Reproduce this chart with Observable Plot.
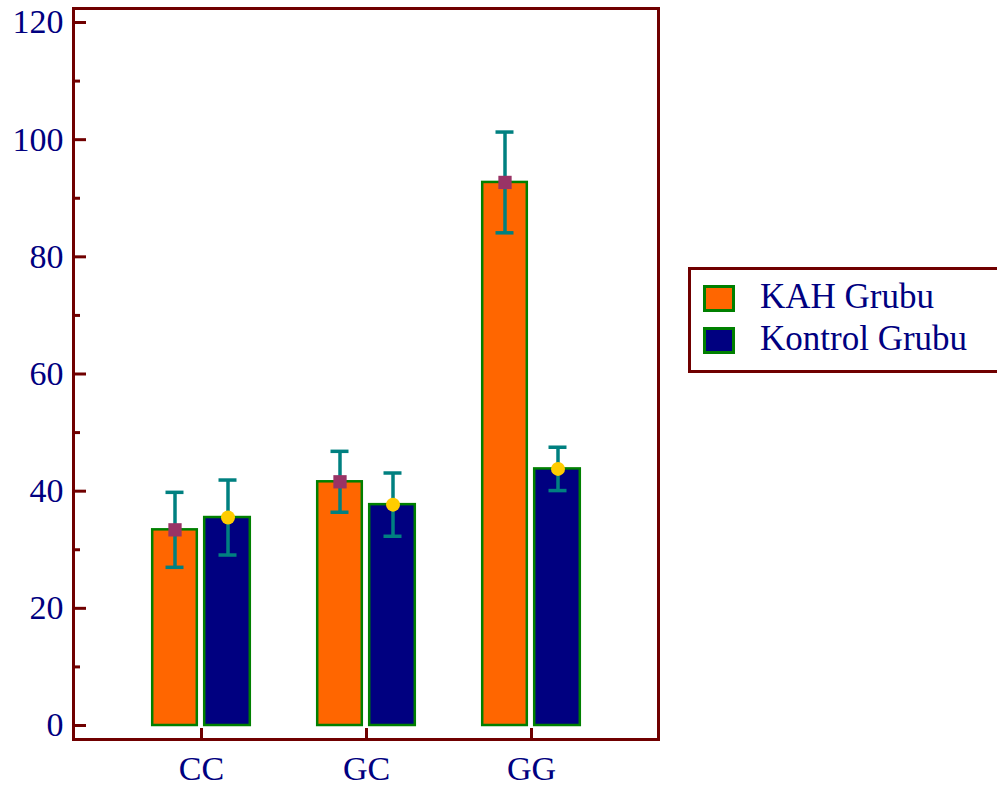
<!DOCTYPE html>
<html>
<head>
<meta charset="utf-8">
<script src="https://cdn.jsdelivr.net/npm/d3@7"></script>
<script src="https://cdn.jsdelivr.net/npm/@observablehq/plot@0.6"></script>
<style>
  body { margin: 0; background: #fff; }
  #wrap { position: relative; width: 997px; height: 789px; overflow: hidden; font-family: "Liberation Serif", "Times New Roman", serif; }
  #legend { position: absolute; left: 688px; top: 267px; width: 340px; height: 106px; border: 3px solid #700000; box-sizing: border-box; background: #fff; }
  .sw { position: absolute; left: 12px; width: 32px; height: 27px; border: 3px solid #008000; box-sizing: border-box; }
  .lt { position: absolute; left: 69px; font-size: 35px; line-height: 35px; color: #000080; white-space: nowrap; }
</style>
</head>
<body>
<div id="wrap"><div id="chart"></div><div id="legend"></div></div>
<script>
// ---- data ----
const categories = ["CC", "GC", "GG"];
const groups = ["KAH Grubu", "Kontrol Grubu"];
const kahMeans = [33.4, 41.6, 92.7];
const kahErrors = [6.4, 5.2, 8.6];
const kontrolMeans = [35.5, 37.7, 43.8];
const kontrolErrors = [6.4, 5.4, 3.7];
const majorTicks = [0, 20, 40, 60, 80, 100, 120];
const minorTicks = [10, 30, 50, 70, 90, 110];

// ---- styles ----
const frameColor = "#700000";
const textColor = "#000080";
const groupFill = {"KAH Grubu": "#FF6600", "Kontrol Grubu": "#000080"};
const barStroke = "#008000";
const errColor = "#008080";

const kah = categories.map((c, i) => ({cat: c, mean: kahMeans[i], lo: kahMeans[i] - kahErrors[i], hi: kahMeans[i] + kahErrors[i]}));
const kon = categories.map((c, i) => ({cat: c, mean: kontrolMeans[i], lo: kontrolMeans[i] - kontrolErrors[i], hi: kontrolMeans[i] + kontrolErrors[i]}));

const off = 26.5; // half-distance between the two bars of a group (px)
const errW = 3.5;

const chart = Plot.plot({
  width: 997,
  height: 789,
  marginLeft: 73,
  marginRight: 339,
  marginTop: 8,
  marginBottom: 50,
  style: {fontFamily: "'Liberation Serif', 'Times New Roman', serif", background: "white", overflow: "visible"},
  x: {type: "band", domain: categories, paddingInner: 0.396, paddingOuter: 0.465},
  y: {domain: [-2.39, 122.39]},
  marks: [
    // bars
    Plot.barY(kah, {x: "cat", y1: 0, y2: "mean", fill: groupFill["KAH Grubu"], stroke: barStroke, strokeWidth: 2.5, insetLeft: 1.2, insetRight: 54.2}),
    Plot.barY(kon, {x: "cat", y1: 0, y2: "mean", fill: groupFill["Kontrol Grubu"], stroke: barStroke, strokeWidth: 2.5, insetLeft: 53.2, insetRight: 1.2}),
    // error bars
    Plot.ruleX(kah, {x: "cat", y1: "lo", y2: "hi", dx: -off, stroke: errColor, strokeWidth: errW}),
    Plot.ruleX(kon, {x: "cat", y1: "lo", y2: "hi", dx: off, stroke: errColor, strokeWidth: errW}),
    Plot.tickY(kah, {x: "cat", y: "lo", dx: -off, insetLeft: 41, insetRight: 41, stroke: errColor, strokeWidth: errW}),
    Plot.tickY(kah, {x: "cat", y: "hi", dx: -off, insetLeft: 41, insetRight: 41, stroke: errColor, strokeWidth: errW}),
    Plot.tickY(kon, {x: "cat", y: "lo", dx: off, insetLeft: 41, insetRight: 41, stroke: errColor, strokeWidth: errW}),
    Plot.tickY(kon, {x: "cat", y: "hi", dx: off, insetLeft: 41, insetRight: 41, stroke: errColor, strokeWidth: errW}),
    // markers
    Plot.dot(kah, {x: "cat", y: "mean", dx: -off, symbol: "square", r: 7.5, fill: "#993366", stroke: "none"}),
    Plot.dot(kon, {x: "cat", y: "mean", dx: off, symbol: "circle", r: 7, fill: "#FFCC00", stroke: "none"}),
    // axes
    Plot.axisY({ticks: majorTicks, tickSize: -13, tickFormat: () => "", stroke: frameColor, strokeWidth: 3, label: null}),
    Plot.axisY({ticks: minorTicks, tickSize: -7, tickFormat: () => "", stroke: frameColor, strokeWidth: 3, label: null}),
    Plot.axisY({ticks: majorTicks, tickSize: 0, tickPadding: 10, fontSize: 34, fill: textColor, label: null}),
    Plot.axisX({tickSize: -11, tickFormat: () => "", stroke: frameColor, strokeWidth: 3, label: null}),
    Plot.axisX({tickSize: 0, tickPadding: 16, fontSize: 34, fill: textColor, label: null}),
    Plot.frame({stroke: frameColor, strokeWidth: 3})
  ]
});
document.getElementById("chart").appendChild(chart);

// ---- legend ----
const legend = document.getElementById("legend");
groups.forEach((g, i) => {
  const sw = document.createElement("div");
  sw.className = "sw";
  sw.style.top = (15 + i * 42) + "px";
  sw.style.background = groupFill[g];
  legend.appendChild(sw);
  const t = document.createElement("div");
  t.className = "lt";
  t.style.top = (9 + i * 42) + "px";
  t.textContent = g;
  legend.appendChild(t);
});
</script>
</body>
</html>
